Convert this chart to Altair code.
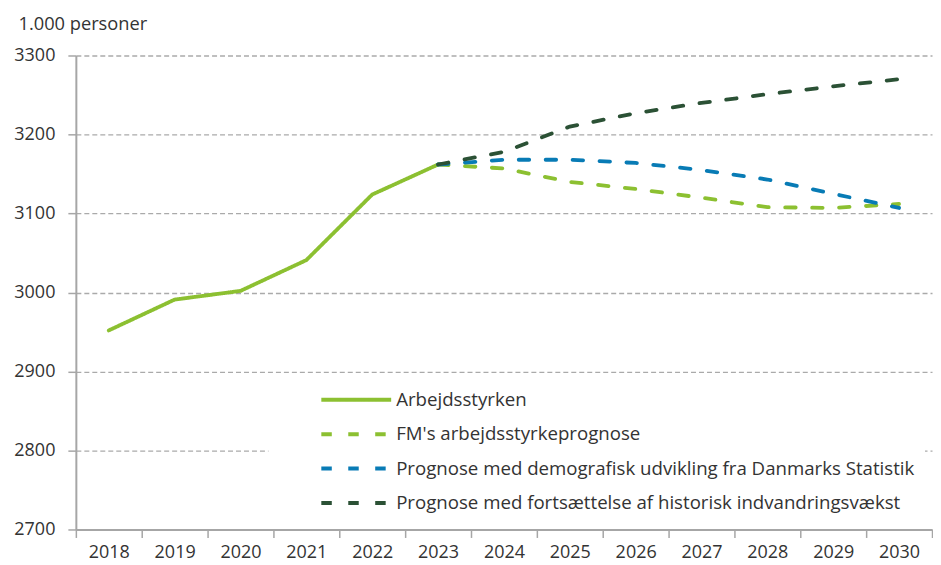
import altair as alt
import pandas as pd

years = [str(y) for y in range(2018, 2031)]

arb_years = years[:6]
arbejdsstyrken = [2952, 2991, 3002, 3041, 3124, 3162]

prog_years = years[5:]
fm_prognose = [3162, 3157, 3140, 3131, 3120, 3108, 3107, 3112]
ds_prognose = [3162, 3168, 3168, 3164, 3155, 3143, 3125, 3107]
hist_prognose = [3162, 3178, 3210, 3227, 3240, 3251, 3261, 3270]

series = [
    "Arbejdsstyrken",
    "FM's arbejdsstyrkeprognose",
    "Prognose med demografisk udvikling fra Danmarks Statistik",
    "Prognose med fortsættelse af historisk indvandringsvækst",
]
colors = ["#8cc031", "#8cc031", "#087bb5", "#2b5135"]
dashes = [[1, 0], [10.5, 16.5], [10.5, 16.5], [10.5, 16.5]]

y_ticks = [2700, 2800, 2900, 3000, 3100, 3200, 3300]

rows = []
for yr, v in zip(arb_years, arbejdsstyrken):
    rows.append({"year": yr, "value": v, "series": series[0]})
for name, vals in zip(series[1:], [fm_prognose, ds_prognose, hist_prognose]):
    for yr, v in zip(prog_years, vals):
        rows.append({"year": yr, "value": v, "series": name})
df = pd.DataFrame(rows)

FONT = "Open Sans"
TXT = "#333333"
AX = "#a6a6a6"

legend = alt.Legend(
    title=None,
    orient="none",
    legendX=193,
    legendY=326,
    fillColor="white",
    padding=10,
    symbolOffset=41,
    symbolType="stroke",
    symbolSize=4900,
    symbolStrokeWidth=4,
    clipHeight=18,
    labelFont=FONT,
    labelFontSize=18.7,
    labelColor=TXT,
    labelOffset=3,
    labelLimit=0,
    rowPadding=15.5,
)

chart = (
    alt.Chart(df)
    .mark_line(strokeWidth=3.8, strokeCap="round")
    .encode(
        x=alt.X(
            "year:O",
            bandPosition=0.5,
            scale=alt.Scale(type="band", domain=years, paddingInner=0, paddingOuter=0),
            axis=alt.Axis(
                title=None,
                labelAngle=0,
                tickBand="extent",
                domainColor=AX,
                domainWidth=2,
                tickColor=AX,
                tickWidth=1.5,
                tickSize=8,
                labelFont=FONT,
                labelFontSize=18,
                labelColor=TXT,
                labelPadding=6,
                grid=False,
            ),
        ),
        y=alt.Y(
            "value:Q",
            scale=alt.Scale(domain=[2700, 3300], nice=False, zero=False),
            axis=alt.Axis(
                values=y_ticks,
                format="d",
                title="1.000 personer",
                titleAngle=0,
                titleX=-58,
                titleY=-26,
                titleAlign="left",
                titleBaseline="alphabetic",
                titleFont=FONT,
                titleFontSize=18.3,
                titleFontWeight="normal",
                titleColor=TXT,
                domainColor=AX,
                domainWidth=2,
                tickColor=AX,
                tickWidth=1.5,
                tickSize=8,
                labelFont=FONT,
                labelFontSize=18,
                labelColor=TXT,
                labelPadding=13,
                grid=True,
                gridDash=[5, 3],
                gridColor="#aaaaaa",
                gridWidth=1.3,
            ),
        ),
        color=alt.Color("series:N", scale=alt.Scale(domain=series, range=colors), legend=legend),
        strokeDash=alt.StrokeDash("series:N", scale=alt.Scale(domain=series, range=dashes), legend=legend),
    )
    .properties(
        width=858,
        height=475,
        padding={"left": 5, "top": 6, "right": 0, "bottom": 0},
    )
    .configure_view(stroke=None)
)

chart.save("out.html", embed_options={"renderer": "svg", "actions": False})
